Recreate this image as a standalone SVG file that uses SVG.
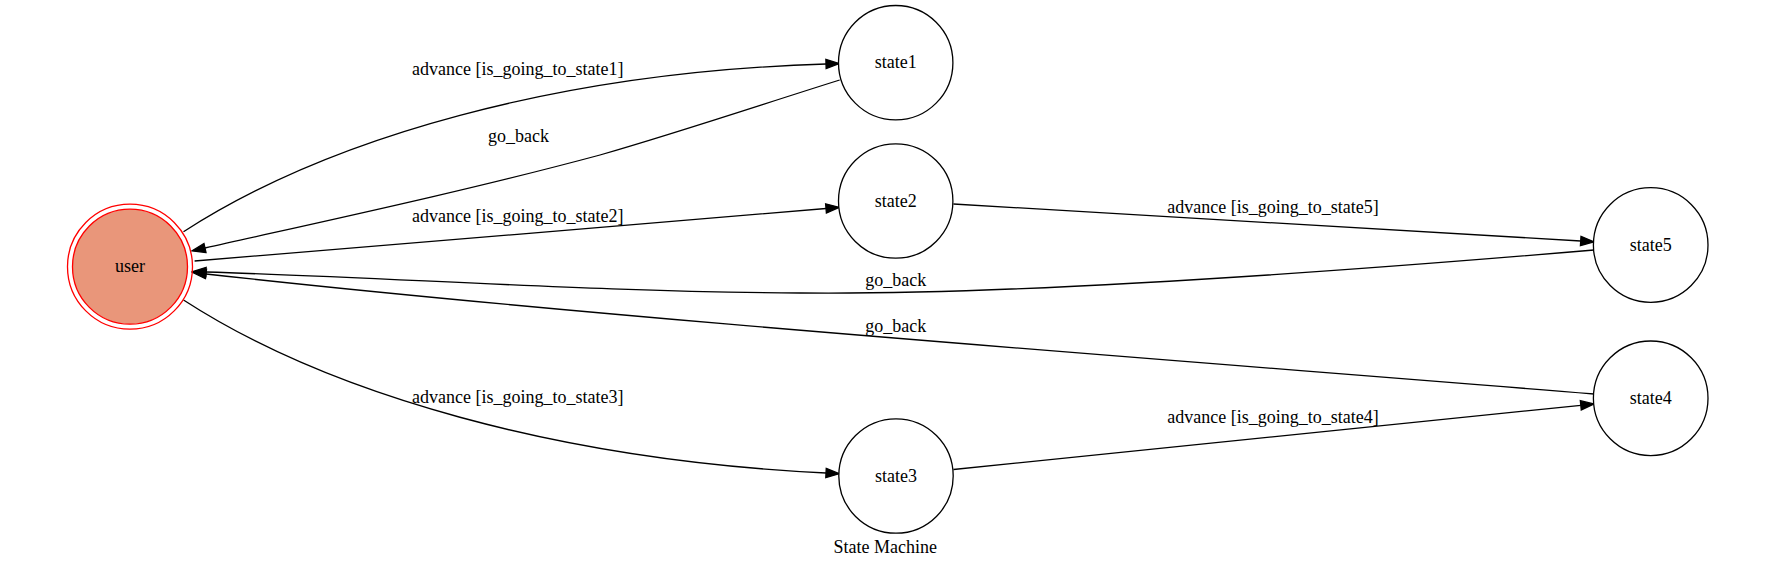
<svg xmlns="http://www.w3.org/2000/svg" width="1771" height="569" viewBox="0 0 1771 569">
<defs>
<style>
text{font-family:"Liberation Serif","Times New Roman",serif;font-size:18px;fill:#000;text-anchor:middle}
.node{fill:#fff;stroke:#000;stroke-width:1.3}
.edge{fill:none;stroke:#000;stroke-width:1.3}
</style>
<marker id="arr" markerUnits="userSpaceOnUse" markerWidth="16" markerHeight="12" refX="0" refY="0" viewBox="0 -6 16 12" orient="auto" overflow="visible">
<path d="M0,-4.67 L13.3,0 L0,4.67 z" fill="#000" stroke="#000" stroke-width="1.3"/>
</marker>
</defs>
<rect width="1771" height="569" fill="#fff"/>
<g id="connectors">
<g id="e-user-state1"><path class="edge" marker-end="url(#arr)" d="M183.5,231.7 C330,137 560,72 826,64"/><text x="517.8" y="75">advance [is_going_to_state1]</text></g>
<g id="e-state1-user"><path class="edge" marker-end="url(#arr)" d="M839.7,80 C760,105 680,132 600,155 C470,190 330,220 205,248"/><text x="518.4" y="141.7">go_back</text></g>
<g id="e-user-state2"><path class="edge" marker-end="url(#arr)" d="M194.6,261 C400,244 620,226 826,208.5"/><text x="517.8" y="221.7">advance [is_going_to_state2]</text></g>
<g id="e-state2-state5"><path class="edge" marker-end="url(#arr)" d="M953.4,204 L1580.7,241"/><text x="1273" y="213.3">advance [is_going_to_state5]</text></g>
<g id="e-state5-user"><path class="edge" marker-end="url(#arr)" d="M1594,250 C1300,275 1000,295 800,293 C600,292 400,278 206,272"/><text x="895.7" y="286">go_back</text></g>
<g id="e-state4-user"><path class="edge" marker-end="url(#arr)" d="M1594,394 C1150,358 600,318 206,274"/><text x="895.7" y="331.7">go_back</text></g>
<g id="e-user-state3"><path class="edge" marker-end="url(#arr)" d="M183.5,300 C330,395 560,460 826,473"/><text x="517.8" y="403.3">advance [is_going_to_state3]</text></g>
<g id="e-state3-state4"><path class="edge" marker-end="url(#arr)" d="M953.4,469.5 L1580.8,405.3"/><text x="1273" y="423.3">advance [is_going_to_state4]</text></g>
</g>
<g id="user">
<circle cx="130" cy="266.7" r="62.5" fill="none" stroke="#ff0000" stroke-width="1.3"/>
<circle cx="130" cy="266.7" r="57.5" fill="#e9967a" stroke="#ff0000" stroke-width="1.3"/>
<text x="130" y="272.3">user</text>
</g>
<g id="state1"><circle class="node" cx="895.7" cy="62.7" r="57.2"/><text x="895.7" y="68.3">state1</text></g>
<g id="state2"><circle class="node" cx="895.7" cy="201" r="57.2"/><text x="895.7" y="206.6">state2</text></g>
<g id="state3"><circle class="node" cx="896" cy="476" r="57.2"/><text x="896" y="481.6">state3</text></g>
<g id="state5"><circle class="node" cx="1650.7" cy="245" r="57.3"/><text x="1650.7" y="250.6">state5</text></g>
<g id="state4"><circle class="node" cx="1650.7" cy="398.3" r="57.3"/><text x="1650.7" y="404">state4</text></g>
<text id="title" x="885.3" y="553.3">State Machine</text>
</svg>
